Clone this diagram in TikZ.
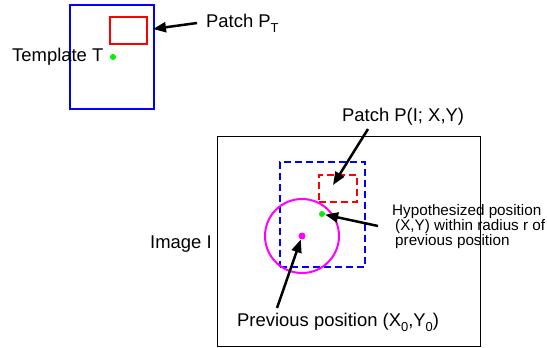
\documentclass[tikz,border=0pt]{standalone}
\usepackage{fontspec}
\setmainfont{Liberation Sans}
\usetikzlibrary{arrows.meta,positioning}
\definecolor{tmplblue}{RGB}{0,0,255}
\definecolor{patchred}{RGB}{255,0,0}
\definecolor{dotgreen}{RGB}{0,240,0}
\definecolor{radmagenta}{RGB}{255,0,255}
\newcommand{\lowsub}[1]{\raisebox{-5bp}{\fontsize{13}{13}\selectfont #1}}

\begin{document}
\begin{tikzpicture}[
  x=1bp, y=-1bp,
  font=\fontsize{18.5}{20}\selectfont,
  frame/.style={draw, rectangle, inner sep=0pt, line width=2bp},
  dashframe/.style={frame, dash pattern=on 7bp off 4bp},
  dot/.style={circle, fill, inner sep=0pt, minimum size=6bp},
  lbl/.style={anchor=base west, inner sep=0pt},
  arr/.style={-{Triangle[length=13bp, width=10bp]}, line width=2.5bp}
]
\useasboundingbox (0,0) rectangle (548,347);

% template
\node[frame, draw=tmplblue, minimum width=84bp, minimum height=104bp] (tmpl) at (112,57) {};
\node[frame, draw=patchred, minimum width=37bp, minimum height=27bp] (pt) at (128.5,30.5) {};
\node[dot, fill=dotgreen] (tc) at (113,57) {};
\node[lbl] (tmpllbl) at (12,61) {Template T};
\node[lbl] (ptlbl) at (206,27) {Patch P\lowsub{T}};

% image
\node[frame, line width=1bp, minimum width=263bp, minimum height=210bp] (img) at (348.5,241) {};
\node[lbl] (imglbl) at (150,248) {Image I};
\node[dashframe, draw=tmplblue, minimum width=85bp, minimum height=105bp] (search) at (322.5,214.5) {};
\node[dashframe, draw=patchred, minimum width=38bp, minimum height=27bp] (pxy) at (338,188.5) {};
\node[circle, draw=radmagenta, line width=2bp, minimum size=74bp, inner sep=0pt] (rad) at (302,236) {};
\node[dot, fill=radmagenta, minimum size=7bp] (prev) at (302,236) {};
\node[dot, fill=dotgreen] (hyp) at (322,214) {};

\node[lbl] (pxylbl) at (342,121) {Patch P(I; X,Y)};
\node[lbl, align=left, font=\fontsize{15.3}{15}\selectfont, anchor=north west] (hyplbl) at (392,204)
  {Hypothesized position\\\hspace{3bp}(X,Y) within radius r of\\\hspace{3bp}previous position};
\node[lbl] (prevlbl) at (237,326) {Previous position (X\lowsub{0},Y\lowsub{0})};

% arrows
\coordinate (pt-tail) at (197,23);
\coordinate (pxy-tail) at (368,129);
\coordinate (hyp-tail) at (378,226);
\coordinate (prev-tail) at (277,308);
\draw[arr] (pt-tail) -- (153,29);
\draw[arr] (pxy-tail) -- (333,185);
\draw[arr] (hyp-tail) -- (hyp);
\draw[arr] (prev-tail) -- (prev);
\end{tikzpicture}
\end{document}
